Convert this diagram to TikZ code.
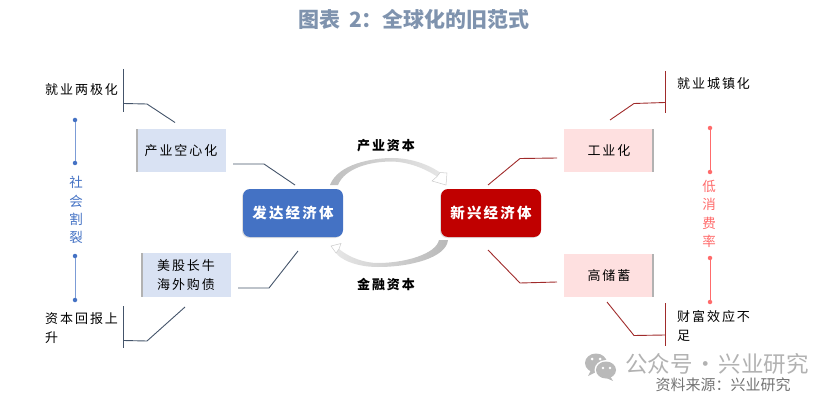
\documentclass[tikz,border=0pt]{standalone}
\usepackage{fontspec}
\usetikzlibrary{shadows}
\setmainfont{Noto Sans CJK SC}
\newfontfamily\spaced[LetterSpace=15]{Noto Sans CJK SC}
\newcommand{\widecolon}{\char"FF1A\relax}
\definecolor{titlegray}{HTML}{7F93AE}
\definecolor{navy}{HTML}{44546A}
\definecolor{darkred}{HTML}{A02B2B}
\definecolor{blueb}{HTML}{4472C4}
\definecolor{redb}{HTML}{C00000}
\definecolor{paleblue}{HTML}{D9E2F3}
\definecolor{palered}{HTML}{FEE0E0}
\definecolor{salmon}{HTML}{FF6B6B}
\tikzset{
  hub/.style={rounded corners=7pt, minimum width=100pt, minimum height=48pt, text=white, inner sep=0pt,
    font=\spaced\fontsize{14.5}{14}\selectfont\bfseries, drop shadow={shadow xshift=-1pt, shadow yshift=-1pt, fill=gray!50}},
  leaf/.style={minimum width=90pt, minimum height=43.5pt, inner sep=0pt, align=center,
    font=\spaced\fontsize{13}{19}\selectfont},
  note/.style={anchor=west, inner sep=0pt, align=left, font=\spaced\fontsize{13}{19}\selectfont},
  flowlabel/.style={inner sep=0pt, font=\spaced\fontsize{13}{12}\selectfont\bfseries},
  sidetext/.style={inner sep=0pt, align=center, font=\fontsize{13.5}{18.3}\selectfont},
  bluedot/.style={circle, fill=blueb, minimum size=4.5pt, inner sep=0pt},
  reddot/.style={circle, fill=salmon, minimum size=4.5pt, inner sep=0pt},
  blueline/.style={blueb!70, line width=1pt},
  redline/.style={salmon, line width=1pt},
  leftline/.style={navy, line width=0.9pt},
  rightline/.style={darkred, line width=0.9pt},
}
\begin{document}
\begin{tikzpicture}[x=1pt, y=-1pt]
  \useasboundingbox (0,0) rectangle (838,401);

  \node[font=\fontsize{21}{20}\selectfont\bfseries, text=titlegray] (title) at (414,19) {图表\hspace{9pt}2\widecolon 全球化的旧范式};

  % main boxes
  \node[hub, fill=blueb] (dev) at (293,213) {发达经济体};
  \node[hub, fill=redb] (emg) at (491,213) {新兴经济体};

  \node[leaf, fill=paleblue] (hollow) at (181,150.5) {产业空心化};
  \node[leaf, fill=paleblue] (stock) at (186,275) {美股长牛\\海外购债};
  \node[leaf, fill=palered] (indus) at (609,150.5) {工业化};
  \node[leaf, fill=palered] (saving) at (609,275.5) {高储蓄};
  \fill[gray!60] (hollow.north west) rectangle ++(2,43.5);
  \fill[gray!60] (stock.north west) rectangle ++(2,43.5);
  \fill[gray!60] (indus.north east) rectangle ++(-2,43.5);
  \fill[gray!60] (saving.north east) rectangle ++(-2,43.5);

  % capital flows
  \shade[left color=gray!50, right color=gray!20] (330,185) .. controls (338,164) and (372,158) .. (392,158)
    .. controls (410,158) and (428,164) .. (440,172.5) -- (437,176.5)
    .. controls (424,168) and (408,162) .. (392,161.5) .. controls (370,161.5) and (345,168) .. (338,185) -- cycle;
  \draw[gray!40, line width=0.5pt, fill=white] (440,172.5) -- (447,173) -- (446,185) -- (432,181) -- (437,176.5) -- cycle;
  \shade[right color=gray!55, left color=gray!20] (448,240) .. controls (446,258) and (410,267) .. (378,267)
    .. controls (355,267) and (340,259) .. (336,253) -- (339,249)
    .. controls (350,258) and (365,263) .. (378,263) .. controls (405,263) and (436,254) .. (439,240) -- cycle;
  \draw[gray!40, line width=0.5pt, fill=white] (336,253) -- (331,246) -- (341,243.5) -- (339,249) -- cycle;
  \node[flowlabel] (capA) at (386,146) {产业资本};
  \node[flowlabel] (capB) at (386,284) {金融资本};

  % left side connectors
  \coordinate (ha) at (233,164);
  \coordinate (hb) at (264,164);
  \coordinate (hc) at (295,185);
  \draw[leftline] (ha) -- (hb) -- (hc);
  \coordinate (sa) at (238,288);
  \coordinate (sb) at (269,288);
  \coordinate (sc) at (298,251);
  \draw[leftline] (sa) -- (sb) -- (sc);
  \coordinate (ja) at (123.5,69);
  \coordinate (jb) at (123.5,112);
  \coordinate (jc) at (147,104);
  \coordinate (jd) at (175,122.5);
  \draw[leftline] (ja) -- (jb);
  \draw[leftline] (123.5,103.5) -- (jc) -- (jd);
  \coordinate (ra) at (123.5,306);
  \coordinate (rb) at (123.5,348);
  \coordinate (rc) at (147,341);
  \coordinate (rd) at (185,307);
  \draw[leftline] (ra) -- (rb);
  \draw[leftline] (123.5,340.5) -- (rc) -- (rd);

  \node[note] (jobsA) at (45,90) {就业两极化};
  \node[note] (retn) at (45,328.5) {资本回报上\\升};

  % right side connectors
  \coordinate (ia) at (557,158);
  \coordinate (ib) at (520,158.5);
  \coordinate (ic) at (488,185);
  \draw[rightline] (ia) -- (ib) -- (ic);
  \coordinate (va) at (557,282);
  \coordinate (vb) at (520,283);
  \coordinate (vc) at (488,250);
  \draw[rightline] (va) -- (vb) -- (vc);
  \coordinate (ua) at (665,71);
  \coordinate (ub) at (665,113);
  \coordinate (uc) at (634,103.5);
  \coordinate (ud) at (610,120);
  \draw[rightline] (ua) -- (ub);
  \draw[rightline] (665,102.5) -- (uc) -- (ud);
  \coordinate (wa) at (665,303);
  \coordinate (wb) at (665,346);
  \coordinate (wc) at (634,335.5);
  \coordinate (wd) at (607,302);
  \draw[rightline] (wa) -- (wb);
  \draw[rightline] (665,335) -- (wc) -- (wd);

  \node[note] (jobsB) at (677,84) {就业城镇化};
  \node[note] (wealth) at (677,326) {财富效应不\\足};

  % side bars
  \node[bluedot] (ba) at (75,120) {};
  \node[bluedot] (bb) at (75,163) {};
  \node[bluedot] (bc) at (75,256) {};
  \node[bluedot] (bd) at (75,300) {};
  \draw[blueline] (ba) -- (bb);
  \draw[blueline] (bc) -- (bd);
  \node[sidetext, text=blueb] (split) at (76,210) {社\\会\\割\\裂};
  \node[reddot] (ca) at (710,128) {};
  \node[reddot] (cb) at (710,172) {};
  \node[reddot] (cc) at (710,258) {};
  \node[reddot] (cd) at (710,302) {};
  \draw[redline] (ca) -- (cb);
  \draw[redline] (cc) -- (cd);
  \node[sidetext, text=salmon] (lowc) at (709,214) {低\\消\\费\\率};

  % watermark
  \fill[gray!55] (596,363) ellipse (11pt and 9.5pt);
  \fill[gray!55] (591,370) -- (588,376) -- (596,372) -- cycle;
  \fill[white] (606,370) ellipse (11.5pt and 10pt);
  \fill[gray!55] (606,370) ellipse (10pt and 8.5pt);
  \fill[gray!55] (610,376) -- (613,381) -- (604,377) -- cycle;
  \fill[white] (592,359) circle (1.5pt) (600,359) circle (1.5pt) (603,368) circle (1.3pt) (610,368) circle (1.3pt);
  \node[font=\fontsize{22.5}{22}\selectfont, text=gray!60, inner sep=0pt] (mark) at (717,364) {公众号\hspace{2pt}·\hspace{2pt}兴业研究};
  \node[font=\fontsize{15}{15}\selectfont, text=gray!90!black, inner sep=0pt] (src) at (723,385) {资料来源\widecolon 兴业研究};
\end{tikzpicture}
\end{document}
